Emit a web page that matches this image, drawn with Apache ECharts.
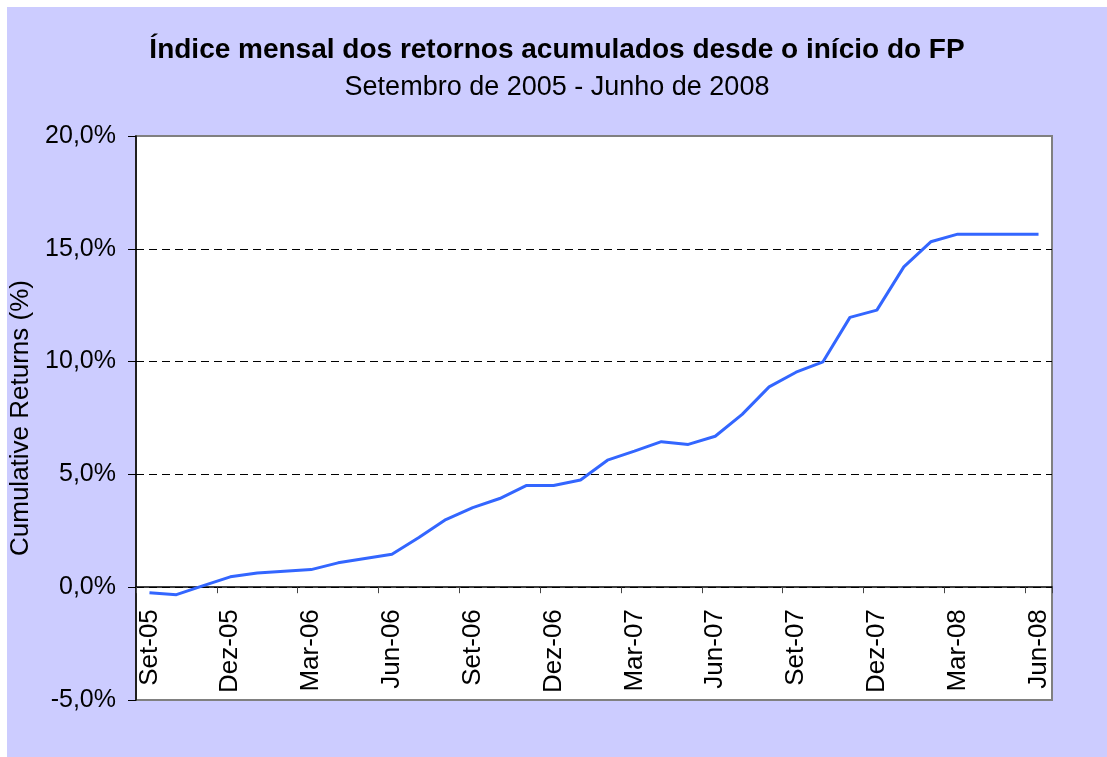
<!DOCTYPE html>
<html>
<head>
<meta charset="utf-8">
<script src="https://cdn.jsdelivr.net/npm/echarts@6/dist/echarts.min.js"></script>
<style>
  html, body { margin: 0; padding: 0; background: #fff; }
  #chart { position: absolute; left: 7px; top: 7px; width: 1100px; height: 750px; }
</style>
</head>
<body>
<div id="chart"></div>
<script>
// monthly categories, Set-05 .. Jun-08
const months = [
  "Set-05", "Out-05", "Nov-05", "Dez-05", "Jan-06", "Fev-06", "Mar-06", "Abr-06",
  "Mai-06", "Jun-06", "Jul-06", "Ago-06", "Set-06", "Out-06", "Nov-06", "Dez-06",
  "Jan-07", "Fev-07", "Mar-07", "Abr-07", "Mai-07", "Jun-07", "Jul-07", "Ago-07",
  "Set-07", "Out-07", "Nov-07", "Dez-07", "Jan-08", "Fev-08", "Mar-08", "Abr-08",
  "Mai-08", "Jun-08"
];
// cumulative returns, in %
const cumReturns = [
  -0.25, -0.33, 0.07, 0.46, 0.63, 0.71, 0.78, 1.08,
  1.27, 1.46, 2.2, 3.0, 3.53, 3.93, 4.51, 4.51,
  4.75, 5.63, 6.03, 6.45, 6.33, 6.69, 7.66, 8.88,
  9.53, 9.99, 11.96, 12.28, 14.2, 15.31, 15.65, 15.65,
  15.65, 15.65
];
const yTicks = [-5, 0, 5, 10, 15, 20];

const chart = echarts.init(document.getElementById("chart"));
const fontFamily = "Liberation Sans, Arial, sans-serif";

// plot box inside the 1100x750 chart div
const gridTop = 129, gridBottom = 57;
const plotH = 750 - gridTop - gridBottom;
// lift the x axis from the bottom edge up to the 0% line
const zeroOffset = -plotH * (0 - yTicks[0]) / (yTicks[yTicks.length - 1] - yTicks[0]);

chart.setOption({
  backgroundColor: "#CCCCFF",
  textStyle: { fontFamily: fontFamily },
  title: [
    {
      text: "Índice mensal dos retornos acumulados desde o início do FP",
      left: "center",
      top: 24,
      textStyle: { fontFamily: fontFamily, fontSize: 28, fontWeight: "bold", color: "#000" }
    },
    {
      text: "Setembro de 2005 - Junho de 2008",
      left: "center",
      top: 62,
      textStyle: { fontFamily: fontFamily, fontSize: 27, fontWeight: "normal", color: "#000" }
    }
  ],
  grid: {
    left: 129,
    right: 55,
    top: gridTop,
    bottom: gridBottom,
    outerBoundsMode: "none",
    containLabel: false,
    show: true,
    backgroundColor: "#fff",
    borderColor: "#808080",
    borderWidth: 2
  },
  xAxis: {
    type: "category",
    data: months,
    boundaryGap: true,
    position: "bottom",
    offset: zeroOffset,
    axisLine: { onZero: false, lineStyle: { color: "#000", width: 1.5 } },
    axisTick: { show: true, interval: 2, length: 6, lineStyle: { color: "#444" } },
    axisLabel: {
      interval: 2,
      rotate: 90,
      margin: 22,
      fontSize: 26,
      color: "#000",
      fontFamily: fontFamily
    }
  },
  yAxis: {
    type: "value",
    min: yTicks[0],
    max: yTicks[yTicks.length - 1],
    interval: 5,
    name: "Cumulative Returns (%)",
    nameLocation: "middle",
    nameGap: 93,
    nameTextStyle: { fontSize: 26, color: "#000", fontFamily: fontFamily },
    axisLine: { show: true, lineStyle: { color: "#000", width: 1.5 } },
    axisTick: { show: true, length: 8, lineStyle: { color: "#000" } },
    axisLabel: {
      margin: 20,
      fontSize: 25,
      color: "#000",
      fontFamily: fontFamily,
      formatter: v => v.toFixed(1).replace(".", ",") + "%"
    },
    splitLine: {
      show: true,
      showMinLine: false,
      showMaxLine: false,
      lineStyle: { color: "#000", type: [8, 5], width: 1.2 }
    }
  },
  series: [
    {
      type: "line",
      data: cumReturns,
      showSymbol: false,
      symbol: "none",
      lineStyle: { color: "#3366FF", width: 3 },
      itemStyle: { color: "#3366FF" }
    }
  ],
  animation: false
});
</script>
</body>
</html>
